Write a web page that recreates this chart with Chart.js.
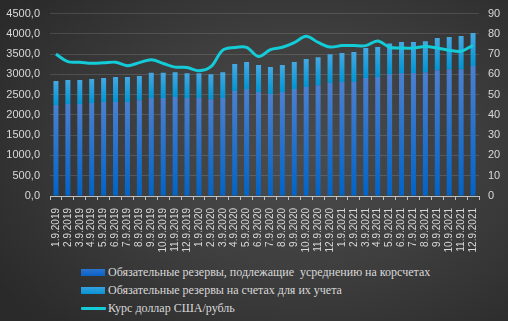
<!DOCTYPE html>
<html>
<head>
<meta charset="utf-8">
<script src="https://cdn.jsdelivr.net/npm/chart.js@4"></script>
<style>
  html, body { margin: 0; padding: 0; }
  body {
    width: 508px; height: 321px; overflow: hidden; position: relative;
    background: radial-gradient(ellipse 70% 75% at 58% 48%, #4c4c4c 0%, #3e3e3e 50%, #2a2a2a 100%);
  }
  #wrap { position: absolute; left: 0; top: -3px; width: 508px; height: 260px; }
  #legend {
    position: absolute; left: 81px; top: 263px;
    font-family: "Liberation Serif", serif; font-size: 12px; color: #d9d9d9;
  }
  .item { height: 18px; display: flex; align-items: center; white-space: pre; }
  .swatch { width: 24px; height: 7px; margin-right: 3px; }
  .lineswatch { width: 25px; height: 3px; margin-right: 2px; border-radius: 1px; }
</style>
</head>
<body>
<div id="wrap"><canvas id="chart"></canvas></div>
<div id="legend"></div>
<script>
const months = [
  '1.9.2019', '2.9.2019', '3.9.2019', '4.9.2019', '5.9.2019', '6.9.2019',
  '7.9.2019', '8.9.2019', '9.9.2019', '10.9.2019', '11.9.2019', '12.9.2019',
  '1.9.2020', '2.9.2020', '3.9.2020', '4.9.2020', '5.9.2020', '6.9.2020',
  '7.9.2020', '8.9.2020', '9.9.2020', '10.9.2020', '11.9.2020', '12.9.2020',
  '1.9.2021', '2.9.2021', '3.9.2021', '4.9.2021', '5.9.2021', '6.9.2021',
  '7.9.2021', '8.9.2021', '9.9.2021', '10.9.2021', '11.9.2021', '12.9.2021'
];

// обязательные резервы, подлежащие усреднению (нижняя часть столбца)
const reservesAveraged = [
  2245, 2270, 2270, 2295, 2320, 2320, 2320, 2365, 2415, 2415, 2440, 2415,
  2415, 2390, 2415, 2590, 2640, 2565, 2515, 2565, 2640, 2690, 2735, 2785,
  2810, 2810, 2910, 2935, 3010, 3035, 3035, 3055, 3105, 3130, 3130, 3205
];

// обязательные резервы на счетах для их учета (верхняя часть)
const reservesAccounts = [
  590, 590, 590, 590, 590, 615, 615, 595, 625, 625, 615, 615,
  615, 615, 640, 665, 665, 665, 665, 665, 665, 690, 690, 715,
  715, 740, 740, 740, 755, 765, 765, 765, 790, 790, 815, 815
];

// курс доллара США / рубль (правая ось)
const usdRub = [
  70.0, 66.3, 66.0, 65.5, 65.7, 66.0, 64.3, 65.8, 67.2, 65.4, 63.6, 63.4,
  61.8, 63.8, 72.0, 73.3, 73.3, 68.8, 72.2, 73.4, 75.7, 78.8, 75.8, 73.5,
  74.2, 74.2, 74.2, 76.5, 73.4, 73.0, 73.0, 73.8, 73.0, 71.9, 71.4, 74.4
];

const seriesNames = [
  'Обязательные резервы, подлежащие  усреднению на корсчетах',
  'Обязательные резервы на счетах для их учета',
  'Курс доллар США/рубль'
];

const tickColor = '#d9d9d9';

/* gradient for each bar segment, from its top to its bottom */
function barGradient(ctx, topVal, bottomVal, topColor, bottomColor) {
  const chart = ctx.chart;
  if (!chart.chartArea || ctx.type !== 'data') return bottomColor;
  const y = chart.scales.y;
  const y0 = y.getPixelForValue(topVal);
  const y1 = y.getPixelForValue(bottomVal);
  const g = chart.ctx.createLinearGradient(0, y0, 0, y1 + 0.01);
  g.addColorStop(0, topColor);
  g.addColorStop(1, bottomColor);
  return g;
}

const chart = new Chart(document.getElementById('chart'), {
  type: 'bar',
  data: {
    labels: months,
    datasets: [
      {
        type: 'line',
        label: seriesNames[2],
        data: usdRub,
        yAxisID: 'y1',
        borderColor: '#14cbd8',
        borderWidth: 3,
        pointRadius: 0,
        tension: 0.35,
        order: 0
      },
      {
        label: seriesNames[0],
        data: reservesAveraged,
        backgroundColor: (ctx) => barGradient(ctx, reservesAveraged[ctx.dataIndex], 0, '#4b80d0', '#0064c8'),
        barPercentage: 0.42,
        categoryPercentage: 1,
        stack: 'res',
        order: 1
      },
      {
        label: seriesNames[1],
        data: reservesAccounts,
        backgroundColor: (ctx) => barGradient(ctx,
          reservesAveraged[ctx.dataIndex] + reservesAccounts[ctx.dataIndex],
          reservesAveraged[ctx.dataIndex], '#45a8e2', '#0094d4'),
        barPercentage: 0.42,
        categoryPercentage: 1,
        stack: 'res',
        order: 1
      }
    ]
  },
  options: {
    responsive: true,
    maintainAspectRatio: false,
    animation: false,
    layout: { padding: { top: 0, left: 6, right: 0, bottom: 4 } },
    plugins: {
      legend: { display: false },
      tooltip: { enabled: false }
    },
    scales: {
      x: {
        stacked: true,
        afterFit: (s) => { s.height = 57; },
        grid: { drawOnChartArea: false, drawTicks: true, tickLength: 4, color: '#bfbfbf', offset: true },
        border: { display: true, color: '#bfbfbf' },
        ticks: {
          color: tickColor, font: { family: 'Liberation Sans', size: 10 },
          minRotation: 90, maxRotation: 90, autoSkip: false, padding: 8
        }
      },
      y: {
        stacked: true,
        min: 0, max: 4500,
        afterFit: (s) => { s.width = 44; },
        grid: { color: 'rgba(255,255,255,0.13)', drawTicks: false },
        border: { display: false },
        ticks: {
          stepSize: 500, padding: 10, color: tickColor,
          font: { family: 'Liberation Sans', size: 11 },
          callback: (v) => v.toFixed(1).replace('.', ',')
        }
      },
      y1: {
        position: 'right',
        min: 0, max: 90,
        afterFit: (s) => { s.width = 29; },
        grid: { display: false, drawTicks: false },
        border: { display: false },
        ticks: {
          stepSize: 10, padding: 9, color: tickColor,
          font: { family: 'Liberation Sans', size: 11 }
        }
      }
    }
  }
});

/* html legend, three rows like the original */
const legend = document.getElementById('legend');
const swatches = [
  'linear-gradient(#2a74d0, #0a62c6)',
  'linear-gradient(#34a2e0, #0a92d2)'
];
[1, 2, 0].forEach((dsIndex, row) => {
  const ds = chart.data.datasets[dsIndex];
  const item = document.createElement('div');
  item.className = 'item';
  const mark = document.createElement('span');
  if (ds.type === 'line') {
    mark.className = 'lineswatch';
    mark.style.background = ds.borderColor;
  } else {
    mark.className = 'swatch';
    mark.style.background = swatches[row];
  }
  const text = document.createElement('span');
  text.textContent = ds.label;
  item.appendChild(mark);
  item.appendChild(text);
  legend.appendChild(item);
});
</script>
</body>
</html>
